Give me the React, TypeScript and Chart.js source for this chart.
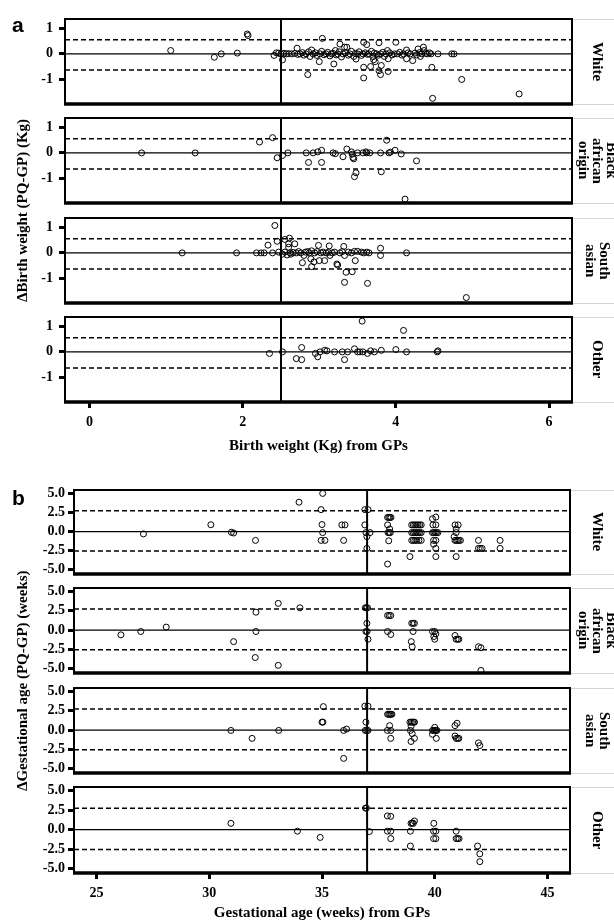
import React, { useEffect, useRef } from 'react';
import { Chart, registerables } from 'chart.js';

Chart.register(...registerables);

type Pt = [number, number];

// ---------- tick values & labels ----------
const bwXTicks = [0, 2, 4, 6];
const bwYTicks = [-1, 0, 1];
const bwYTickLabels = ['-1', '0', '1'];
const gaXTicks = [25, 30, 35, 40, 45];
const gaYTicks = [-5, -2.5, 0, 2.5, 5];
const gaYTickLabels = ['-5.0', '-2.5', '0.0', '2.5', '5.0'];

// ---------- facet names ----------
const groupLines: string[][] = [['White'], ['Black', 'african', 'origin'], ['South', 'asian'], ['Other']];

// ---------- reference lines ----------
const bwLimits = [0.55, -0.62];
const bwCut = 2.5;
const gaLimits = [2.73, -2.55];
const gaCut = 37;

// ---------- panel a: birth weight (x = GP value, y = PQ - GP) ----------
const bwWhite: Pt[] = [
  [1.06, 0.13], [1.63, -0.13], [1.72, 0], [1.93, 0.03], [2.06, 0.77], [2.07, 0.71], [2.41, -0.06], [2.44, 0.04],
  [2.52, -0.23], [2.71, 0.22], [2.85, -0.8], [2.9, 0.15], [3.0, -0.3], [3.04, 0.6], [3.19, -0.39], [3.21, 0.13],
  [3.27, 0.38], [3.33, 0.26], [3.36, 0.26], [3.48, -0.2], [3.58, 0.45], [3.62, 0.36], [3.58, -0.52], [3.58, -0.93],
  [3.67, -0.49], [3.71, -0.23], [3.73, -0.3], [3.78, 0.43], [3.81, -0.45], [3.78, -0.65], [3.8, -0.8], [3.89, 0.13],
  [3.9, -0.19], [3.9, -0.68], [4.0, 0.45], [4.14, 0.15], [4.14, -0.19], [4.22, -0.26], [4.29, 0.19], [4.32, -0.1],
  [4.36, 0.26], [4.37, 0.13], [4.47, -0.52], [4.48, -1.72], [4.55, 0], [4.73, 0], [4.76, 0], [4.86, -0.99], [5.61, -1.55],
  [2.47, 0.03], [2.5, 0], [2.54, 0.02], [2.57, 0], [2.6, 0.01], [2.64, 0], [2.68, 0.02], [2.72, -0.02], [2.75, 0],
  [2.78, 0.05], [2.8, -0.05], [2.83, 0], [2.86, 0.08], [2.88, -0.1], [2.92, 0], [2.95, 0.04], [2.97, -0.06], [3.01, 0],
  [3.03, 0.1], [3.06, -0.03], [3.09, 0], [3.11, 0.06], [3.14, -0.08], [3.16, 0], [3.18, 0.02], [3.22, -0.04], [3.24, 0],
  [3.26, 0.08], [3.29, -0.12], [3.31, 0], [3.34, 0.04], [3.38, -0.05], [3.4, 0], [3.42, 0.1], [3.45, -0.1], [3.47, 0.02],
  [3.5, 0], [3.52, 0.08], [3.55, -0.06], [3.57, 0], [3.6, 0.04], [3.63, -0.02], [3.65, 0], [3.68, 0.1], [3.7, -0.1],
  [3.72, 0.03], [3.75, 0], [3.77, -0.05], [3.8, 0], [3.83, 0.06], [3.85, -0.1], [3.87, 0], [3.92, 0.04], [3.95, -0.04],
  [3.98, 0], [4.02, 0], [4.05, 0.06], [4.08, -0.05], [4.1, 0], [4.16, 0.04], [4.19, 0], [4.25, 0.03], [4.27, -0.04],
  [4.31, 0.05], [4.34, 0], [4.39, 0.02], [4.41, 0], [4.44, 0.04], [4.46, 0],
];
const bwBlack: Pt[] = [
  [0.68, 0], [1.38, 0], [2.22, 0.42], [2.39, 0.59], [2.45, -0.19], [2.52, -0.1], [2.59, 0], [2.83, 0], [2.86, -0.37],
  [2.92, 0], [2.98, 0.04], [3.03, 0.1], [3.03, -0.37], [3.18, 0], [3.21, -0.03], [3.31, -0.15], [3.36, 0.15], [3.42, 0.04],
  [3.43, -0.05], [3.44, -0.18], [3.45, -0.23], [3.48, -0.77], [3.46, -0.92], [3.5, 0], [3.57, 0], [3.61, 0.04], [3.62, 0],
  [3.66, 0], [3.8, 0], [3.81, -0.73], [3.88, 0.49], [3.91, 0], [3.93, 0.03], [3.99, 0.1], [4.07, -0.04], [4.12, -1.79], [4.27, -0.31],
];
const bwSouthAsian: Pt[] = [
  [1.21, 0], [1.92, 0], [2.18, 0], [2.24, 0], [2.28, 0], [2.33, 0.3], [2.39, 0], [2.42, 1.06], [2.45, 0.45], [2.47, 0.03],
  [2.55, 0.52], [2.61, 0.57], [2.6, 0.35], [2.6, 0.22], [2.68, 0.35], [2.78, -0.38], [2.8, -0.1], [2.89, -0.23], [2.9, -0.53],
  [2.93, -0.35], [2.99, 0.29], [3.0, -0.3], [3.07, -0.3], [3.13, 0.27], [3.14, -0.1], [3.23, -0.43], [3.24, -0.47], [3.32, 0.25],
  [3.33, -0.1], [3.35, -0.75], [3.33, -1.14], [3.43, -0.73], [3.47, -0.3], [3.5, 0.06], [3.63, -1.18], [3.8, 0.18], [3.8, -0.1],
  [4.14, 0], [4.92, -1.73],
  [2.52, -0.05], [2.55, 0.03], [2.58, -0.08], [2.62, 0], [2.63, -0.05], [2.66, 0.02], [2.7, 0], [2.73, 0.05], [2.76, 0],
  [2.82, 0.03], [2.85, 0.05], [2.87, 0], [2.9, 0.08], [2.94, 0], [2.97, 0.05], [3.02, 0], [3.05, 0.03], [3.09, 0], [3.12, 0.02],
  [3.17, 0], [3.2, 0.03], [3.27, 0], [3.3, 0.05], [3.38, 0.03], [3.42, 0], [3.46, 0.06], [3.55, 0.03], [3.58, 0], [3.62, 0.03], [3.65, 0],
];
const bwOther: Pt[] = [
  [2.35, -0.06], [2.52, 0], [2.7, -0.26], [2.77, -0.3], [2.77, 0.17], [2.95, -0.06], [2.98, -0.19], [3.01, 0], [3.07, 0.06],
  [3.1, 0.04], [3.2, 0], [3.3, 0], [3.33, -0.3], [3.37, 0], [3.46, 0.12], [3.5, 0], [3.53, 0], [3.56, 1.19], [3.57, 0],
  [3.63, -0.06], [3.67, 0.04], [3.72, 0], [3.81, 0.06], [4.0, 0.09], [4.1, 0.83], [4.14, 0], [4.54, 0], [4.55, 0.04],
];

// ---------- panel b: gestational age (x = GP value, y = PQ - GP) ----------
const gaWhite: Pt[] = [
  [27.08, -0.3], [30.07, 0.9], [30.98, -0.09], [31.08, -0.18], [32.05, -1.15], [33.98, 3.85], [34.96, 2.88], [35.03, 5.0],
  [35.0, 0.93], [35.03, -0.13], [34.96, -1.15], [35.13, -1.15], [35.88, 0.88], [36.02, 0.88], [35.96, -1.15], [36.9, 2.88],
  [37.04, 2.88], [36.9, 0.88], [36.95, -0.13], [36.99, -0.66], [37.13, -0.13], [36.99, -2.2],
  [37.91, 1.86], [37.96, 1.86], [38.01, 1.86], [38.06, 1.86], [37.91, 0.88], [38.0, 0.35], [37.93, -0.13], [37.98, -0.13],
  [38.03, -0.13], [37.96, -1.2], [37.91, -4.25],
  [38.98, 0.88], [39.05, 0.88], [39.12, 0.88], [39.19, 0.88], [39.26, 0.88], [39.33, 0.88], [39.4, 0.88], [38.98, -0.13],
  [39.05, -0.13], [39.12, -0.13], [39.19, -0.13], [39.26, -0.13], [39.33, -0.13], [39.4, -0.13], [38.98, -1.15], [39.05, -1.15],
  [39.12, -1.15], [39.2, -1.15], [39.3, -1.15], [39.4, -1.15], [38.9, -3.27],
  [39.9, 1.68], [40.05, 1.9], [39.92, 0.88], [40.05, 0.88], [39.9, -0.13], [39.96, -0.13], [40.02, -0.13], [40.08, -0.13],
  [40.14, -0.13], [39.95, -1.15], [40.05, -1.15], [39.95, -1.64], [40.05, -2.2], [40.05, -3.27],
  [40.9, 0.88], [41.04, 0.88], [40.95, 0.35], [40.95, -0.13], [40.86, -0.66], [40.9, -1.15], [40.96, -1.15], [41.02, -1.15],
  [41.08, -1.15], [41.14, -1.15], [40.95, -3.27],
  [41.94, -1.15], [41.94, -2.2], [42.02, -2.2], [42.1, -2.2], [42.9, -1.15], [42.9, -2.2],
];
const gaBlack: Pt[] = [
  [26.08, -0.61], [26.96, -0.18], [28.09, 0.39], [31.08, -1.49], [32.07, 2.32], [32.07, -0.18], [32.04, -3.55], [33.06, 3.46],
  [33.06, -4.56], [34.02, 2.89], [36.92, 2.89], [36.97, 2.89], [37.02, 2.89], [36.99, 0.88], [36.95, -0.18], [37.0, -0.18],
  [37.04, -1.18], [37.91, 1.89], [37.98, 1.89], [38.05, 1.89], [37.91, -0.18], [38.05, -0.57], [38.98, 0.88], [39.04, 0.88],
  [39.1, 0.88], [39.04, -0.18], [38.96, -1.49], [39.0, -2.15], [39.9, -0.18], [40.0, -0.18], [40.05, -0.48], [39.96, -0.83],
  [40.0, -1.18], [40.9, -0.7], [40.95, -1.18], [41.02, -1.18], [41.07, -1.18], [41.94, -2.15], [42.05, -2.28], [42.05, -5.22],
];
const gaSouthAsian: Pt[] = [
  [30.96, -0.04], [31.9, -1.07], [33.08, -0.04], [35.06, 3.04], [35.0, 1.03], [35.04, 1.03], [35.96, -0.04], [36.09, 0.13],
  [35.96, -3.66], [36.9, 3.1], [37.04, 3.1], [36.95, 1.03], [36.92, -0.04], [36.98, -0.04], [37.04, -0.04],
  [37.91, 2.05], [37.96, 2.05], [38.01, 2.05], [38.06, 2.05], [38.1, 2.05], [38.0, 0.58], [37.9, -0.04], [38.05, -0.04], [38.05, -1.07],
  [38.9, 1.03], [38.96, 1.03], [39.02, 1.03], [39.08, 1.03], [39.1, 1.03], [38.95, 0.5], [38.92, -0.04], [39.0, -0.45],
  [38.95, -1.47], [39.1, -1.07],
  [39.9, -0.04], [39.95, -0.04], [40.0, -0.04], [40.05, -0.04], [40.1, -0.04], [40.0, 0.36], [39.9, -0.54], [40.07, -1.07],
  [40.9, 0.58], [40.99, 0.89], [40.9, -0.76], [40.95, -1.07], [41.02, -1.07], [41.07, -1.07], [41.94, -1.65], [42.0, -2.0],
];
const gaOther: Pt[] = [
  [30.96, 0.8], [33.91, -0.2], [34.92, -1.0], [36.93, 2.75], [36.97, 2.75], [37.1, -0.25], [37.9, 1.75], [38.05, 1.7],
  [37.9, -0.2], [38.05, -0.2], [38.05, -1.15], [38.95, 0.8], [39.0, 0.85], [39.05, 0.8], [39.1, 1.1], [38.92, -0.2],
  [38.92, -2.1], [39.96, 0.8], [39.95, -0.2], [40.05, -0.2], [39.95, -1.15], [40.05, -1.15], [40.95, -0.2], [40.95, -1.15],
  [41.02, -1.15], [41.08, -1.15], [41.9, -2.1], [42.0, -3.1], [42.0, -4.1],
];

// ---------- layout (pixels) ----------
const PAGE_W = 614;
const M = 12;
const SERIF = '"Liberation Serif", "Times New Roman", serif';

interface PanelSpec {
  left: number;
  right: number;
  facets: [number, number][];
  axisH: number;
  xRange: [number, number];
  yRange: [number, number];
  xTicks: number[];
  yTicks: number[];
  yTickLabels: string[];
  yTickPad: number;
  limits: number[];
  cut: number;
  xTitle: string;
  series: Pt[][];
}

const panelA: PanelSpec = {
  left: 65,
  right: 572,
  facets: [[19, 104], [118, 203], [218, 303], [317, 402]],
  axisH: 52,
  xRange: [-0.32, 6.3],
  yRange: [-1.94, 1.35],
  xTicks: bwXTicks,
  yTicks: bwYTicks,
  yTickLabels: bwYTickLabels,
  yTickPad: 6,
  limits: bwLimits,
  cut: bwCut,
  xTitle: 'Birth weight (Kg) from GPs',
  series: [bwWhite, bwBlack, bwSouthAsian, bwOther],
};

const panelB: PanelSpec = {
  left: 74,
  right: 570,
  facets: [[490, 574], [588, 673], [688, 773], [787, 873]],
  axisH: 48,
  xRange: [24, 46],
  yRange: [-5.55, 5.45],
  xTicks: gaXTicks,
  yTicks: gaYTicks,
  yTickLabels: gaYTickLabels,
  yTickPad: 3,
  limits: gaLimits,
  cut: gaCut,
  xTitle: 'Gestational age (weeks) from GPs',
  series: [gaWhite, gaBlack, gaSouthAsian, gaOther],
};

const framePlugin = {
  id: 'facetFrame',
  afterDatasetsDraw(chart: any) {
    const { ctx, chartArea } = chart;
    const { left, right, top, bottom } = chartArea;
    ctx.save();
    // strip guide lines
    ctx.strokeStyle = '#d4d4d4';
    ctx.lineWidth = 1;
    ctx.beginPath();
    ctx.moveTo(right, top + 0.5);
    ctx.lineTo(chart.width, top + 0.5);
    ctx.moveTo(right, bottom + 0.5);
    ctx.lineTo(chart.width, bottom + 0.5);
    ctx.stroke();
    // frame
    ctx.strokeStyle = '#000';
    ctx.lineWidth = 2;
    ctx.beginPath();
    ctx.moveTo(left, bottom);
    ctx.lineTo(left, top);
    ctx.lineTo(right, top);
    ctx.lineTo(right, bottom);
    ctx.stroke();
    ctx.lineWidth = 3.5;
    ctx.beginPath();
    ctx.moveTo(left - 1, bottom);
    ctx.lineTo(right + 1, bottom);
    ctx.stroke();
    ctx.restore();
  },
};

function lineDs(pts: Pt[], dash: number[], width: number) {
  return {
    data: pts.map(([x, y]) => ({ x, y })),
    showLine: true,
    pointRadius: 0,
    borderColor: '#000',
    borderWidth: width,
    borderDash: dash,
    fill: false,
  };
}

function makeConfig(p: PanelSpec, idx: number): any {
  const isLast = idx === p.facets.length - 1;
  const [xmin, xmax] = p.xRange;
  const [ymin, ymax] = p.yRange;
  const tickFont = { family: SERIF, weight: 'bold' as const, size: 14, lineHeight: 1 };
  const grid = {
    display: true,
    drawOnChartArea: false,
    drawTicks: true,
    tickLength: 6,
    tickWidth: 3,
    tickColor: '#000',
  };
  return {
    type: 'scatter',
    data: {
      datasets: [
        {
          data: p.series[idx].map(([x, y]) => ({ x, y })),
          pointRadius: 3,
          pointBorderWidth: 1,
          pointBorderColor: '#000',
          pointBackgroundColor: 'rgba(0,0,0,0)',
          borderColor: '#000',
          backgroundColor: 'rgba(0,0,0,0)',
        },
        lineDs([[xmin, 0], [xmax, 0]], [], 1.2),
        lineDs([[xmin, p.limits[0]], [xmax, p.limits[0]]], [5, 3], 1.5),
        lineDs([[xmin, p.limits[1]], [xmax, p.limits[1]]], [5, 3], 1.5),
        lineDs([[p.cut, ymin], [p.cut, ymax]], [], 2),
      ],
    },
    options: {
      responsive: false,
      maintainAspectRatio: false,
      animation: false,
      events: [],
      layout: { padding: { left: 0, right: PAGE_W - p.right, top: M, bottom: isLast ? 0 : M } },
      plugins: { legend: { display: false }, tooltip: { enabled: false }, title: { display: false } },
      scales: {
        x: {
          type: 'linear',
          min: xmin,
          max: xmax,
          display: isLast,
          afterBuildTicks: (s: any) => {
            s.ticks = p.xTicks.map((v) => ({ value: v }));
          },
          afterFit: (s: any) => {
            s.height = isLast ? p.axisH : 0;
            s.paddingLeft = 0;
            s.paddingRight = 0;
          },
          grid,
          border: { display: false },
          ticks: {
            color: '#000',
            font: tickFont,
            padding: 7,
            maxRotation: 0,
            autoSkip: false,
            callback: (v: any) => String(v),
          },
          title: {
            display: true,
            text: p.xTitle,
            color: '#000',
            font: { family: SERIF, weight: 'bold', size: 15, lineHeight: 1 },
            padding: 0,
          },
        },
        y: {
          type: 'linear',
          min: ymin,
          max: ymax,
          afterBuildTicks: (s: any) => {
            s.ticks = p.yTicks.map((v) => ({ value: v }));
          },
          afterFit: (s: any) => {
            s.width = p.left;
            s.paddingTop = 0;
            s.paddingBottom = 0;
          },
          grid,
          border: { display: false },
          ticks: {
            color: '#000',
            font: tickFont,
            padding: p.yTickPad,
            autoSkip: false,
            callback: (v: any) => {
              const i = p.yTicks.indexOf(Number(v));
              return i >= 0 ? p.yTickLabels[i] : '';
            },
          },
        },
      },
    },
    plugins: [framePlugin],
  };
}

function Facet({ p, idx }: { p: PanelSpec; idx: number }) {
  const ref = useRef<HTMLCanvasElement | null>(null);
  const [top, bot] = p.facets[idx];
  const isLast = idx === p.facets.length - 1;
  const h = bot - top + M + (isLast ? p.axisH : M);
  useEffect(() => {
    if (!ref.current) return;
    const chart = new Chart(ref.current, makeConfig(p, idx));
    return () => chart.destroy();
  }, [p, idx]);
  return (
    <canvas
      ref={ref}
      width={PAGE_W}
      height={h}
      style={{ position: 'absolute', left: 0, top: top - M, width: PAGE_W, height: h }}
    />
  );
}

function StripLabel({ lines, top, bot }: { lines: string[]; top: number; bot: number }) {
  const lh = 14;
  const w = lines.length * lh;
  const cx = 598;
  return (
    <div
      style={{
        position: 'absolute',
        left: cx - w / 2,
        top,
        width: w,
        height: bot - top,
        writingMode: 'vertical-rl',
        textAlign: 'center',
        fontFamily: SERIF,
        fontWeight: 'bold',
        fontSize: 15,
        lineHeight: `${lh}px`,
        color: '#000',
        whiteSpace: 'nowrap',
      }}
    >
      {lines.map((l, i) => (
        <React.Fragment key={i}>
          {l}
          {i < lines.length - 1 ? <br /> : null}
        </React.Fragment>
      ))}
    </div>
  );
}

function YTitle({ text, cx, cy }: { text: string; cx: number; cy: number }) {
  const len = 420;
  return (
    <div
      style={{
        position: 'absolute',
        left: cx - 10,
        top: cy - len / 2,
        width: 20,
        height: len,
        writingMode: 'vertical-rl',
        transform: 'rotate(180deg)',
        textAlign: 'center',
        fontFamily: SERIF,
        fontWeight: 'bold',
        fontSize: 15,
        lineHeight: '20px',
        color: '#000',
        whiteSpace: 'nowrap',
      }}
    >
      {text}
    </div>
  );
}

function PanelLetter({ text, left, top }: { text: string; left: number; top: number }) {
  return (
    <div
      style={{
        position: 'absolute',
        left,
        top,
        fontFamily: '"Liberation Sans", Arial, sans-serif',
        fontWeight: 'bold',
        fontSize: 21,
        lineHeight: '21px',
        color: '#000',
      }}
    >
      {text}
    </div>
  );
}

export default function App() {
  return (
    <div
      style={{
        position: 'absolute',
        left: 0,
        top: 0,
        width: PAGE_W,
        height: 922,
        overflow: 'hidden',
        background: '#fff',
      }}
    >
      {panelA.facets.map((_, i) => (
        <Facet key={'a' + i} p={panelA} idx={i} />
      ))}
      {panelB.facets.map((_, i) => (
        <Facet key={'b' + i} p={panelB} idx={i} />
      ))}
      {panelA.facets.map(([t, b], i) => (
        <StripLabel key={'sa' + i} lines={groupLines[i]} top={t} bot={b} />
      ))}
      {panelB.facets.map(([t, b], i) => (
        <StripLabel key={'sb' + i} lines={groupLines[i]} top={t} bot={b} />
      ))}
      <YTitle text="ΔBirth weight (PQ-GP) (Kg)" cx={22} cy={210} />
      <YTitle text="ΔGestational age (PQ-GP) (weeks)" cx={22} cy={681} />
      <PanelLetter text="a" left={12} top={14} />
      <PanelLetter text="b" left={12} top={487} />
    </div>
  );
}
